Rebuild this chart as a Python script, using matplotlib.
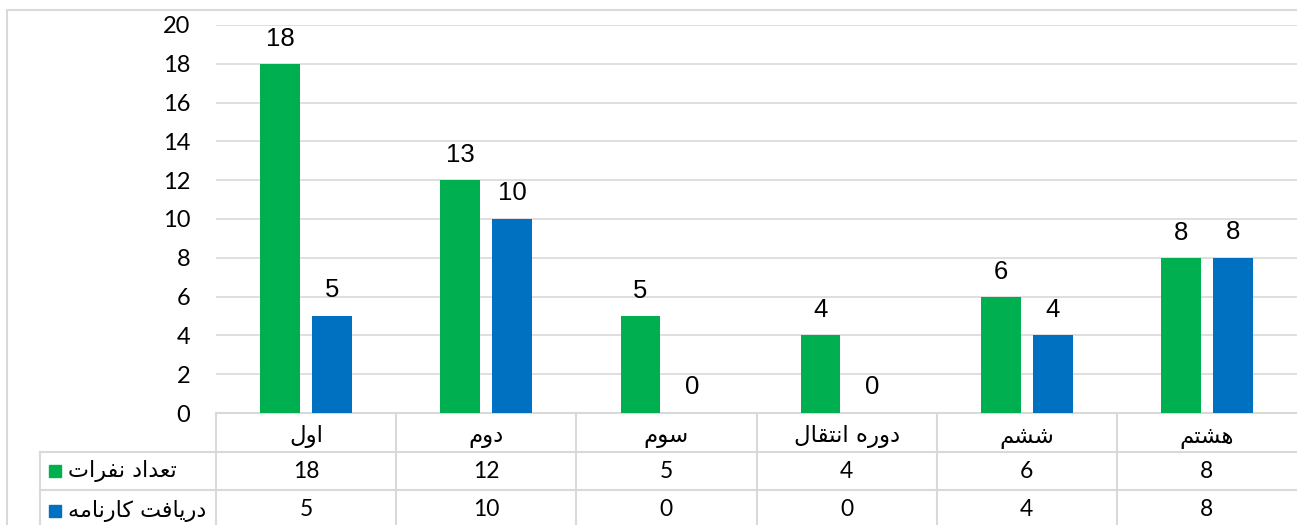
import numpy as np
import matplotlib
matplotlib.use('Agg')
import matplotlib.pyplot as plt
from matplotlib.patches import Rectangle
from matplotlib.lines import Line2D

categories = ['اول', 'دوم', 'سوم', 'دوره انتقال', 'ششم', 'هشتم']
series_names = ['تعداد نفرات', 'دریافت کارنامه']
people = [18, 12, 5, 4, 6, 8]
people_labels = ['18', '13', '5', '4', '6', '8']
reports = [5, 10, 0, 0, 4, 8]
yticks = [0, 2, 4, 6, 8, 10, 12, 14, 16, 18, 20]

GREEN = '#00B050'
BLUE = '#0070C0'
GRID = '#D9D9D9'

# matplotlib has no arabic shaping, so pick presentation forms by hand
FORMS = {
    'ا': ('\uFE8D', '\uFE8E', None, None),
    'د': ('\uFEA9', '\uFEAA', None, None),
    'ر': ('\uFEAD', '\uFEAE', None, None),
    'و': ('\uFEED', '\uFEEE', None, None),
    'ل': ('\uFEDD', '\uFEDE', '\uFEDF', '\uFEE0'),
    'م': ('\uFEE1', '\uFEE2', '\uFEE3', '\uFEE4'),
    'س': ('\uFEB1', '\uFEB2', '\uFEB3', '\uFEB4'),
    'ش': ('\uFEB5', '\uFEB6', '\uFEB7', '\uFEB8'),
    'ه': ('\uFEE9', '\uFEEA', '\uFEEB', '\uFEEC'),
    'ن': ('\uFEE5', '\uFEE6', '\uFEE7', '\uFEE8'),
    'ت': ('\uFE95', '\uFE96', '\uFE97', '\uFE98'),
    'ق': ('\uFED5', '\uFED6', '\uFED7', '\uFED8'),
    'ع': ('\uFEC9', '\uFECA', '\uFECB', '\uFECC'),
    'ف': ('\uFED1', '\uFED2', '\uFED3', '\uFED4'),
    'ی': ('\uFBFC', '\uFBFD', '\uFBFE', '\uFBFF'),
    'ک': ('\uFB8E', '\uFB8F', '\uFB90', '\uFB91'),
}


def shape(s):
    out = []
    for i, ch in enumerate(s):
        if ch not in FORMS:
            out.append(ch)
            continue
        prev = s[i - 1] if i > 0 else ''
        nxt = s[i + 1] if i + 1 < len(s) else ''
        iso, fin, ini, med = FORMS[ch]
        jp = prev in FORMS and FORMS[prev][2] is not None
        jn = nxt in FORMS and ini is not None
        if jp and jn:
            out.append(med)
        elif jp:
            out.append(fin)
        elif jn:
            out.append(ini)
        else:
            out.append(iso)
    return ''.join(reversed(out))


W, H = 1297, 525
fig = plt.figure(figsize=(W / 100, H / 100), dpi=100)
# plot area in pixels: x 216..1297, y 25..413
ax = fig.add_axes([216 / W, (H - 413) / H, (W - 216) / W, 388 / H])

x = np.arange(len(categories))
bw = 0.22
off = 0.144
ax.bar(x - off, people, bw, color=GREEN, zorder=3)
ax.bar(x + off, reports, bw, color=BLUE, zorder=3)

for xi, v, lab in zip(x, people, people_labels):
    ax.annotate(lab, (xi - off, v), xytext=(0, 18), textcoords='offset points',
                ha='center', va='center', fontsize=18.5, family='Liberation Sans')
for xi, v in zip(x, reports):
    ax.annotate(str(v), (xi + off, v), xytext=(0, 18.5), textcoords='offset points',
                ha='center', va='center', fontsize=18.5, family='Liberation Sans')

ax.set_xlim(-0.5, len(categories) - 0.5)
ax.set_ylim(0, 20)
ax.set_yticks(yticks)
ax.set_yticklabels([str(t) for t in yticks], family='Lato', fontsize=17)
ax.tick_params(axis='y', length=0, pad=18.5)
ax.set_xticks([])
ax.yaxis.grid(True, color=GRID, lw=1.2, zorder=0)
for sp in ax.spines.values():
    sp.set_visible(False)

# data table under the axis
n = len(categories)
y_rows = [0, -39 / 388, -77 / 388]
y_bot = -112 / 388
x_left = (40 - 216) / (W - 216)
kw = dict(color=GRID, lw=1.5, transform=ax.transAxes, clip_on=False)
ax.add_line(Line2D([0, 1], [0, 0], **kw))
for yr in y_rows[1:]:
    ax.add_line(Line2D([x_left, 1], [yr, yr], **kw))
ax.add_line(Line2D([x_left, x_left], [y_rows[1], y_bot], **kw))
for i in range(n):
    ax.add_line(Line2D([i / n, i / n], [0, y_bot], **kw))

tr = ax.get_xaxis_transform()
for xi, c in zip(x, categories):
    ax.text(xi, -24 / 388, shape(c), transform=tr, ha='center', va='center',
            fontsize=16.5, family='DejaVu Sans', clip_on=False)
for row, vals in enumerate([people, reports]):
    yc = [-58 / 388, -97 / 388][row]
    for xi, v in zip(x, vals):
        ax.text(xi, yc, str(v), transform=tr, ha='center', va='center',
                fontsize=16.5, family='Lato', clip_on=False)

# row headers with legend keys
for row, (name, col) in enumerate(zip(series_names, [GREEN, BLUE])):
    ypx = [471, 511][row]
    fig.patches.append(Rectangle((49 / W, (H - ypx - 6) / H), 12 / W, 12 / H,
                                 transform=fig.transFigure, color=col))
    fig.text(68 / W, (H - ypx) / H, shape(name), ha='left', va='center',
             fontsize=16, family='DejaVu Sans')

# outer chart border
fig.add_artist(Line2D([7 / W, 7 / W, 1], [0, 1 - 10 / H, 1 - 10 / H],
                      color=GRID, lw=1.5, transform=fig.transFigure))

fig.savefig('out.png', dpi=100)
